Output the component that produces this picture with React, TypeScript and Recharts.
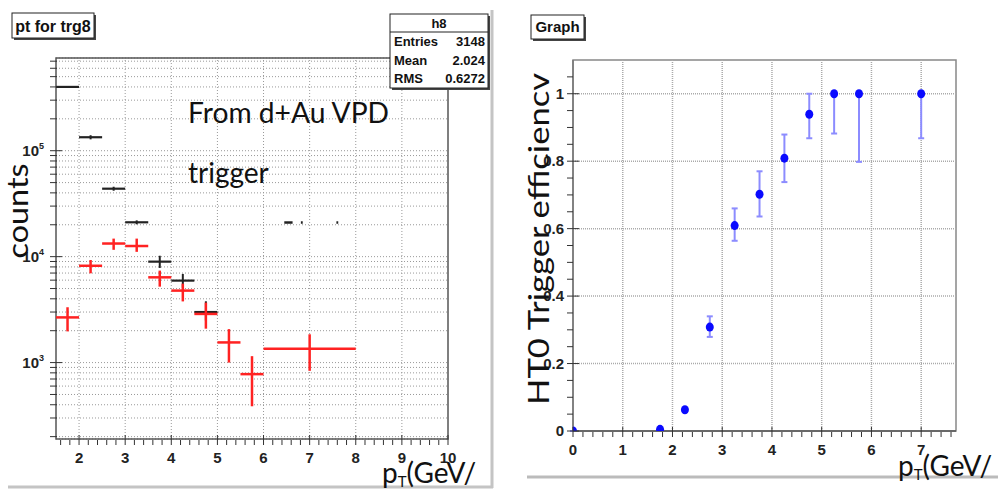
import {
  ScatterChart,
  Scatter,
  XAxis,
  YAxis,
  CartesianGrid,
  ErrorBar,
  ReferenceLine,
  ReferenceArea,
} from "recharts";

// left panel: pt for trg8 (log counts)
const blackCenters = [1.75, 2.25, 2.75, 3.25, 3.75, 4.25, 4.75];
const blackHalfWidth = [0.25, 0.25, 0.25, 0.25, 0.25, 0.25, 0.25];
const blackCounts = [400000, 134000, 43800, 21100, 8970, 5940, 3000];
const blackHigh = [405000, 140000, 45700, 22000, 10200, 6870, 3790];
const blackLow = [395000, 128000, 41900, 20200, 7820, 5100, 2490];

// stray marks at high pt
const tailCenters = [6.54, 6.83, 7.6];
const tailHalfWidth = [0.09, 0.02, 0.02];
const tailCounts = [21000, 21000, 21000];

const redCenters = [1.75, 2.25, 2.75, 3.25, 3.75, 4.25, 4.75, 5.25, 5.75, 7.0];
const redHalfWidth = [0.25, 0.25, 0.25, 0.25, 0.25, 0.25, 0.25, 0.25, 0.25, 1.0];
const redCounts = [2670, 8200, 13300, 12600, 6380, 4780, 2880, 1550, 778, 1350];
const redHigh = [3330, 9300, 14800, 14800, 7380, 5560, 3680, 2070, 1150, 1850];
const redLow = [1970, 6960, 11600, 11100, 5210, 3780, 2090, 1000, 387, 836];

const leftXLabels = [2, 3, 4, 5, 6, 7, 8, 9, 10];
const leftYMajor = [1000, 10000, 100000];
const leftYTicks = [
  200, 300, 400, 500, 600, 700, 800, 900,
  1000, 2000, 3000, 4000, 5000, 6000, 7000, 8000, 9000,
  10000, 20000, 30000, 40000, 50000, 60000, 70000, 80000, 90000,
  100000, 200000, 300000, 400000, 500000, 600000, 700000,
];

// right panel: HT0 trigger efficiency
const effPt = [0, 1.75, 2.25, 2.75, 3.25, 3.75, 4.25, 4.75, 5.25, 5.75, 7.0];
const eff = [0, 0.005, 0.063, 0.308, 0.609, 0.702, 0.809, 0.939, 1.0, 1.0, 1.0];
const effHigh = [0, 0.005, 0.063, 0.34, 0.66, 0.77, 0.879, 1.0, 1.0, 1.0, 1.0];
const effLow = [0, 0.005, 0.063, 0.279, 0.564, 0.636, 0.738, 0.868, 0.882, 0.798, 0.868];

const rightXLabels = [0, 1, 2, 3, 4, 5, 6, 7];
const rightYLabels = [0, 0.2, 0.4, 0.6, 0.8, 1];

const steps = (from: number, to: number, step: number) => {
  const out: number[] = [];
  for (let v = from; v <= to + 1e-9; v += step) out.push(Math.round(v * 100) / 100);
  return out;
};
const leftXTicks = steps(1.6, 10, 0.2);
const rightXTicks = steps(0, 7.6, 0.2);
const rightYTicks = steps(0, 1.05, 0.05);

const histo = (c: number[], hw: number[], v: number[], lo?: number[], hi?: number[]) =>
  c.map((x, i) => ({
    x,
    y: v[i],
    xerr: hw[i],
    yerr: [lo ? v[i] - lo[i] : 0, hi ? hi[i] - v[i] : 0],
  }));

const blackData = histo(blackCenters, blackHalfWidth, blackCounts, blackLow, blackHigh);
const tailData = histo(tailCenters, tailHalfWidth, tailCounts);
const redData = histo(redCenters, redHalfWidth, redCounts, redLow, redHigh);
const effData = effPt.map((x, i) => ({
  x,
  y: eff[i],
  yerr: [eff[i] - effLow[i], effHigh[i] - eff[i]],
}));

const tickFont = {
  fontFamily: "'Liberation Sans Narrow', 'Liberation Sans', Arial, sans-serif",
  fontWeight: 700,
  fontSize: 14,
  fill: "#222",
};
const bigFont = {
  fontFamily: "Lato, 'Open Sans', sans-serif",
  fontSize: 28,
  fill: "#111",
};

const LeftYTick = (props: any) => {
  const { x, y, payload } = props;
  const major = leftYMajor.includes(payload.value);
  const exp = Math.round(Math.log10(payload.value));
  return (
    <g>
      <line x1={x} x2={x + (major ? 12 : 7)} y1={y} y2={y} stroke="#333" />
      {major && (
        <text x={x - 6} y={y + 5} textAnchor="end" style={{ ...tickFont, fontSize: 15 }}>
          10
          <tspan dy={-7} fontSize={9}>
            {exp}
          </tspan>
        </text>
      )}
    </g>
  );
};

const makeXTick = (labels: number[]) => (props: any) => {
  const { x, y, payload } = props;
  const major = labels.includes(payload.value);
  return (
    <g>
      <line x1={x} x2={x} y1={y} y2={y - (major ? 10 : 5)} stroke="#333" />
      {major && (
        <text x={x} y={y + 18} textAnchor="middle" style={{ ...tickFont, fontSize: 15 }}>
          {payload.value}
        </text>
      )}
    </g>
  );
};

const RightYTick = (props: any) => {
  const { x, y, payload } = props;
  const major = rightYLabels.includes(payload.value);
  return (
    <g>
      <line x1={x} x2={x + (major ? 12 : 6)} y1={y} y2={y} stroke="#333" />
      {major && (
        <text x={x - 3} y={y + 5} textAnchor="end" style={{ ...tickFont, fontSize: 15 }}>
          {payload.value}
        </text>
      )}
    </g>
  );
};

const noMarker = () => <g />;
const blueDot = (p: any) => <ellipse cx={p.cx} cy={p.cy} rx={4} ry={4.5} fill="#0a0aff" />;

export default function App() {
  return (
    <div style={{ position: "fixed", left: 0, top: 0, width: 998, height: 489, background: "#fff", overflow: "hidden" }}>
      <div style={{ position: "absolute", left: 0, top: 0 }}>
        <ScatterChart width={460} height={489} margin={{ top: 58, right: 12, bottom: 0, left: 0 }}>
          <CartesianGrid vertical={false} stroke="#999" strokeDasharray="1 2" />
          {leftXLabels.slice(0, -1).map((v) => (
            <ReferenceLine key={v} x={v} stroke="#999" strokeDasharray="1 2" />
          ))}
          <ReferenceArea x1={1.5} x2={10} y1={190} y2={750000} fill="none" stroke="#555" strokeWidth={1.5} ifOverflow="visible" />
          <XAxis
            type="number"
            dataKey="x"
            domain={[1.5, 10]}
            ticks={leftXTicks}
            interval={0}
            height={50}
            axisLine={false}
            tickLine={false}
            tickMargin={0}
            tick={makeXTick(leftXLabels)}
            allowDataOverflow
          />
          <YAxis
            type="number"
            dataKey="y"
            scale="log"
            domain={[190, 750000]}
            ticks={leftYTicks}
            interval={0}
            width={56}
            axisLine={false}
            tickLine={false}
            tickMargin={0}
            tick={LeftYTick}
            allowDataOverflow
          />
          <Scatter data={blackData} shape={noMarker} isAnimationActive={false}>
            <ErrorBar dataKey="xerr" direction="x" width={0} stroke="#222" strokeWidth={2.2} />
            <ErrorBar dataKey="yerr" direction="y" width={0} stroke="#222" strokeWidth={2} />
          </Scatter>
          <Scatter data={tailData} shape={noMarker} isAnimationActive={false}>
            <ErrorBar dataKey="xerr" direction="x" width={0} stroke="#222" strokeWidth={2.5} />
          </Scatter>
          <Scatter data={redData} shape={noMarker} isAnimationActive={false}>
            <ErrorBar dataKey="xerr" direction="x" width={0} stroke="#f22" strokeWidth={2.5} />
            <ErrorBar dataKey="yerr" direction="y" width={0} stroke="#f22" strokeWidth={2.5} />
          </Scatter>
        </ScatterChart>
      </div>

      <div style={{ position: "absolute", left: 510, top: 0 }}>
        <ScatterChart width={460} height={489} margin={{ top: 60, right: 14, bottom: 0, left: 0 }}>
          {rightXLabels.slice(1).map((v) => (
            <ReferenceLine key={"x" + v} x={v} stroke="#aaa" strokeDasharray="1 1" strokeWidth={1.5} />
          ))}
          {rightYLabels.slice(1).map((v) => (
            <ReferenceLine key={"y" + v} y={v} stroke="#aaa" strokeDasharray="1 1" strokeWidth={1.5} />
          ))}
          <ReferenceArea x1={0} x2={7.7} y1={0} y2={1.1} fill="none" stroke="#888" strokeWidth={1.5} ifOverflow="visible" />
          <XAxis
            type="number"
            dataKey="x"
            domain={[0, 7.7]}
            ticks={rightXTicks}
            interval={0}
            height={58}
            axisLine={{ stroke: "#555", strokeWidth: 1.5 }}
            tickLine={false}
            tickMargin={0}
            tick={makeXTick(rightXLabels)}
            allowDataOverflow
          />
          <YAxis
            type="number"
            dataKey="y"
            domain={[0, 1.1]}
            ticks={rightYTicks}
            interval={0}
            width={63}
            axisLine={{ stroke: "#777", strokeWidth: 1.5 }}
            tickLine={false}
            tickMargin={0}
            tick={RightYTick}
            allowDataOverflow
          />
          <Scatter data={effData} shape={blueDot} isAnimationActive={false}>
            <ErrorBar dataKey="yerr" direction="y" width={3} stroke="#8c8cff" strokeWidth={2} />
          </Scatter>
        </ScatterChart>
      </div>

      <svg width={998} height={489} style={{ position: "absolute", left: 0, top: 0, pointerEvents: "none" }}>
        {/* panel separators */}
        <line x1={8} x2={493} y1={487} y2={487} stroke="#c4c4c4" strokeWidth={3} />
        <line x1={492} x2={492} y1={10} y2={488} stroke="#c4c4c4" strokeWidth={3} />
        <line x1={527} x2={998} y1={477} y2={477} stroke="#bbb" strokeWidth={3} />

        {/* title boxes */}
        <rect x={14} y={15} width={82} height={25} fill="#444" />
        <rect x={12} y={13} width={82} height={25} fill="#fff" stroke="#222" />
        <text x={53} y={32} textAnchor="middle" style={{ ...tickFont, fontSize: 16, fill: "#111" }}>
          pt for trg8
        </text>
        <rect x={533} y={17} width={53} height={24} fill="#444" />
        <rect x={531} y={15} width={53} height={24} fill="#fff" stroke="#222" />
        <text x={557.5} y={32} textAnchor="middle" style={{ ...tickFont, fontSize: 15, fill: "#111" }}>
          Graph
        </text>

        {/* stats box */}
        <rect x={392} y={16} width={98} height={74} fill="#444" />
        <rect x={390} y={14} width={98} height={74} fill="#fff" stroke="#222" />
        <line x1={390} x2={488} y1={32} y2={32} stroke="#222" />
        <text x={439} y={28} textAnchor="middle" style={{ ...tickFont, fontSize: 13, fill: "#111" }}>h8</text>
        <text x={394} y={46} style={{ ...tickFont, fontSize: 13, fill: "#111" }}>Entries</text>
        <text x={485} y={46} textAnchor="end" style={{ ...tickFont, fontSize: 13, fill: "#111" }}>3148</text>
        <text x={394} y={65} style={{ ...tickFont, fontSize: 13, fill: "#111" }}>Mean</text>
        <text x={485} y={65} textAnchor="end" style={{ ...tickFont, fontSize: 13, fill: "#111" }}>2.024</text>
        <text x={394} y={83} style={{ ...tickFont, fontSize: 13, fill: "#111" }}>RMS</text>
        <text x={485} y={83} textAnchor="end" style={{ ...tickFont, fontSize: 13, fill: "#111" }}>0.6272</text>

        {/* annotations and axis titles */}
        <text x={188} y={123} style={bigFont} textLength={201} lengthAdjust="spacingAndGlyphs">
          From d+Au VPD
        </text>
        <text x={188} y={183} style={bigFont}>
          trigger
        </text>
        <text transform="translate(28,211) rotate(-90)" textAnchor="middle" style={bigFont} textLength={95} lengthAdjust="spacingAndGlyphs">
          counts
        </text>
        <text x={382} y={483} style={bigFont}>
          p<tspan dy={4} fontSize={15}>T</tspan>
          <tspan dy={-4}>(GeV/</tspan>
        </text>
        <text transform="translate(549,239) rotate(-90)" textAnchor="middle" style={bigFont} textLength={332} lengthAdjust="spacingAndGlyphs">
          HT0 Trigger efficiencv
        </text>
        <text x={898} y={476} style={bigFont}>
          p<tspan dy={4} fontSize={15}>T</tspan>
          <tspan dy={-4}>(GeV/</tspan>
        </text>
      </svg>
    </div>
  );
}
